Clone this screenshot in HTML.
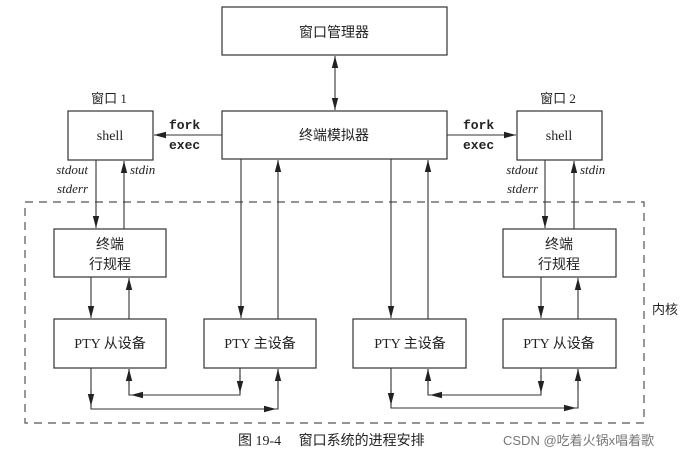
<!DOCTYPE html>
<html><head><meta charset="utf-8"><style>
html,body{margin:0;padding:0;background:#fff;}
svg{display:block;}
text{font-family:"Liberation Serif","Noto Serif CJK SC","Noto Sans CJK SC",serif;fill:#222;}
.cjk{font-family:"Liberation Serif","Noto Sans CJK SC",sans-serif;}
.mono{font-family:"Liberation Mono",monospace;font-weight:bold;}
</style></head><body>
<svg width="697" height="463" viewBox="0 0 697 463" xmlns="http://www.w3.org/2000/svg">
<defs>
<marker id="a" markerWidth="12" markerHeight="8" refX="12" refY="4" orient="auto" markerUnits="userSpaceOnUse" viewBox="0 0 12 8">
<path d="M0,0.8 L12,4 L0,7.2 z" fill="#222"/></marker>
</defs>
<g fill="none" stroke="#333" stroke-width="1.2">
<rect x="222" y="7" width="225" height="48"/>
<rect x="222" y="111" width="225" height="48"/>
<rect x="68" y="111" width="85" height="49"/>
<rect x="517" y="111" width="85" height="49"/>
<rect x="54" y="229" width="112" height="48"/>
<rect x="503" y="229" width="113" height="48"/>
<rect x="54" y="319" width="112" height="49"/>
<rect x="204" y="319" width="112" height="49"/>
<rect x="353" y="319" width="113" height="49"/>
<rect x="503" y="319" width="113" height="49"/>
<rect x="25" y="202" width="619" height="221" stroke-dasharray="8,6" stroke="#555"/>
</g>
<g fill="none" stroke="#333" stroke-width="1.1">
<path d="M91,368 V409 H278 V369"/>
<path d="M240,368 V395 H129 V369"/>
<path d="M391,368 V408 H578 V369"/>
<path d="M541,368 V395 H428 V369"/>
</g>
<g fill="none" stroke="#333" stroke-width="1.1" marker-end="url(#a)">
<line x1="335" y1="83" x2="335" y2="56"/>
<line x1="335" y1="83" x2="335" y2="110"/>
<line x1="222" y1="135" x2="154" y2="135"/>
<line x1="447" y1="135" x2="516" y2="135"/>
<line x1="96" y1="160" x2="96" y2="228"/>
<line x1="124" y1="229" x2="124" y2="161"/>
<line x1="545" y1="160" x2="545" y2="228"/>
<line x1="574" y1="229" x2="574" y2="161"/>
<line x1="91" y1="277" x2="91" y2="318"/>
<line x1="129" y1="319" x2="129" y2="278"/>
<line x1="541" y1="277" x2="541" y2="318"/>
<line x1="578" y1="319" x2="578" y2="278"/>
<line x1="241" y1="159" x2="241" y2="318"/>
<line x1="278" y1="319" x2="278" y2="160"/>
<line x1="391" y1="159" x2="391" y2="318"/>
<line x1="428" y1="319" x2="428" y2="160"/>
<!-- bottom route arrowheads -->
<line x1="91" y1="390" x2="91" y2="406"/>
<line x1="250" y1="409" x2="276" y2="409"/>
<line x1="278" y1="390" x2="278" y2="369"/>
<line x1="240" y1="375" x2="240" y2="393"/>
<line x1="150" y1="395" x2="131" y2="395"/>
<line x1="129" y1="385" x2="129" y2="369"/>
<line x1="391" y1="390" x2="391" y2="405"/>
<line x1="550" y1="408" x2="576" y2="408"/>
<line x1="578" y1="390" x2="578" y2="369"/>
<line x1="541" y1="375" x2="541" y2="393"/>
<line x1="450" y1="395" x2="430" y2="395"/>
<line x1="428" y1="385" x2="428" y2="369"/>
</g>
<g font-size="14" text-anchor="middle">
<text x="334" y="37" class="cjk">窗口管理器</text>
<text x="334" y="140" class="cjk">终端模拟器</text>
<text x="110" y="140">shell</text>
<text x="559" y="140">shell</text>
<text x="110" y="249" class="cjk">终端</text>
<text x="110" y="269" class="cjk">行规程</text>
<text x="559" y="249" class="cjk">终端</text>
<text x="559" y="269" class="cjk">行规程</text>
<text x="110" y="348" class="cjk">PTY 从设备</text>
<text x="260" y="348" class="cjk">PTY 主设备</text>
<text x="410" y="348" class="cjk">PTY 主设备</text>
<text x="559" y="348" class="cjk">PTY 从设备</text>
<text x="109" y="103" class="cjk" font-size="13">窗口 1</text>
<text x="558" y="103" class="cjk" font-size="13">窗口 2</text>
</g>
<g font-size="13" class="mono">
<text x="169" y="129" class="mono">fork</text>
<text x="169" y="149" class="mono">exec</text>
<text x="463" y="129" class="mono">fork</text>
<text x="463" y="149" class="mono">exec</text>
</g>
<g font-size="13" font-style="italic">
<text x="88" y="174" text-anchor="end">stdout</text>
<text x="88" y="193" text-anchor="end">stderr</text>
<text x="130" y="174">stdin</text>
<text x="538" y="174" text-anchor="end">stdout</text>
<text x="538" y="193" text-anchor="end">stderr</text>
<text x="580" y="174">stdin</text>
</g>
<text x="652" y="314" font-size="13" class="cjk">内核</text>
<text x="238" y="445" font-size="14" class="cjk">图 19-4　 窗口系统的进程安排</text>
<text x="503" y="445" font-size="13" style="font-family:'Liberation Sans','Noto Sans CJK SC',sans-serif;fill:#777">CSDN @吃着火锅x唱着歌</text>
</svg>
</body></html>
